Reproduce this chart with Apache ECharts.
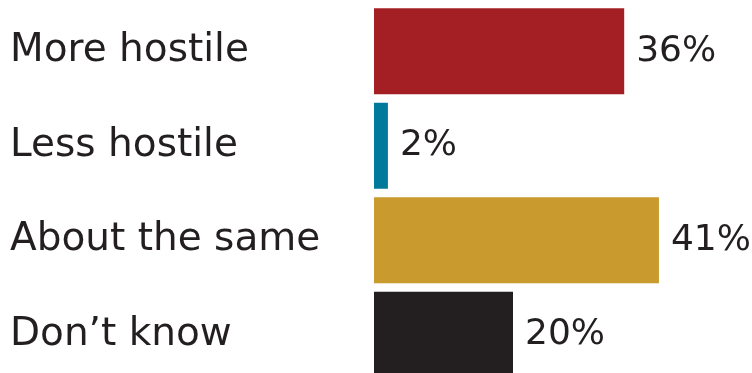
<!DOCTYPE html>
<html>
<head>
<meta charset="utf-8">
<script src="https://cdn.jsdelivr.net/npm/echarts@6/dist/echarts.min.js"></script>
<style>
  html, body { margin: 0; padding: 0; background: #fff; overflow: hidden; }
  /* the bottom row runs slightly past the visible frame */
  #chart { width: 752px; height: 382px; }
</style>
</head>
<body>
<div id="chart"></div>
<script>
// Survey responses, percentages
const categories = ['More hostile', 'Less hostile', 'About the same', 'Don\u2019t know'];
const values = [36, 2, 41, 20];
const barColors = ['#a31f24', '#00799b', '#c99a2e', '#231f20'];

const textColor = '#231f20';
const fontFamily = '"DejaVu Sans", sans-serif';

const chart = echarts.init(document.getElementById('chart'), null, { renderer: 'canvas' });

chart.setOption({
  animation: false,
  grid: { left: 374, width: 347.5, top: 4, bottom: 0, containLabel: false },
  xAxis: {
    type: 'value', min: 0, max: 50,
    show: false
  },
  yAxis: {
    type: 'category',
    data: categories,
    inverse: true,
    axisLine: { show: false },
    axisTick: { show: false },
    splitLine: { show: false },
    axisLabel: {
      align: 'left',
      margin: 364,
      color: textColor,
      fontFamily: fontFamily,
      fontSize: 39
    }
  },
  series: [{
    type: 'bar',
    barWidth: 86,
    data: values.map((v, i) => ({ value: v, itemStyle: { color: barColors[i] } })),
    label: {
      show: true,
      position: 'right',
      distance: 12,
      formatter: '{c}%',
      color: textColor,
      fontFamily: fontFamily,
      fontSize: 36
    }
  }]
});
</script>
</body>
</html>
